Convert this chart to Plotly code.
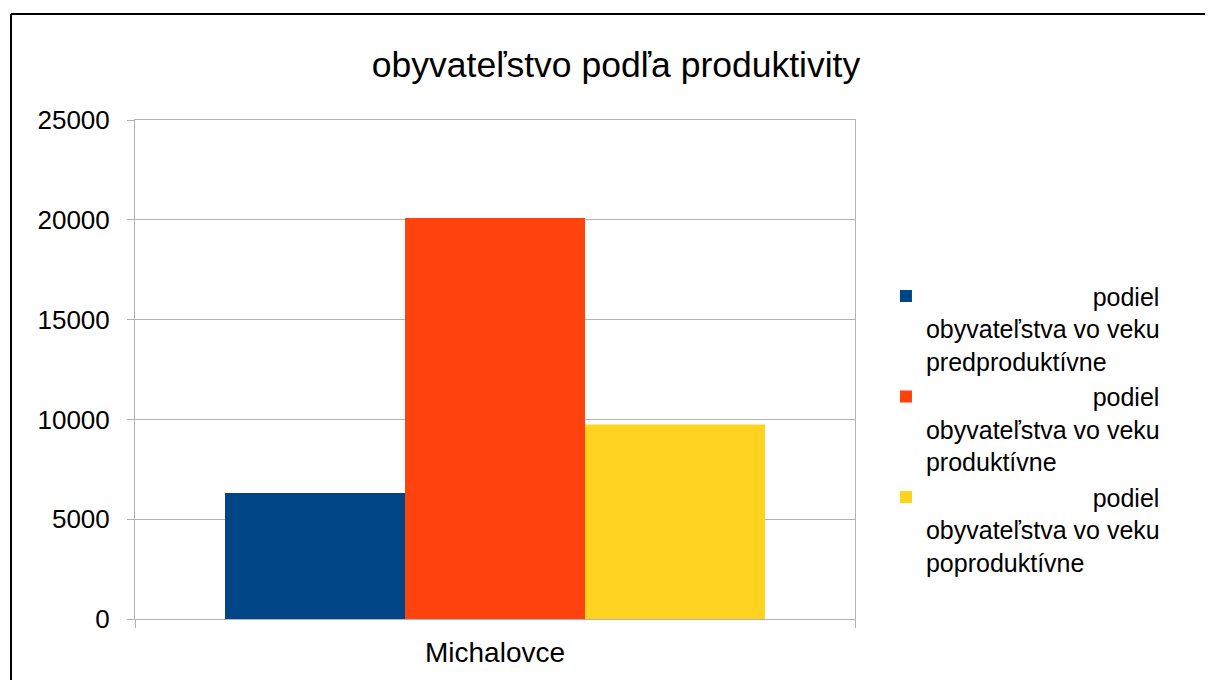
import plotly.graph_objects as go

categories = ["Michalovce"]
series_names = [
    "podiel obyvateľstva vo veku predproduktívne",
    "podiel obyvateľstva vo veku produktívne",
    "podiel obyvateľstva vo veku poproduktívne",
]
legend_first = ["podiel", "podiel", "podiel"]
legend_rest = [
    ["obyvateľstva vo veku", "predproduktívne"],
    ["obyvateľstva vo veku", "produktívne"],
    ["obyvateľstva vo veku", "poproduktívne"],
]
series_values = [[6307], [20084], [9749]]
series_colors = ["#004586", "#ff420e", "#ffd320"]
y_ticks = [0, 5000, 10000, 15000, 20000, 25000]
title_text = "obyvateľstvo podľa produktivity"

FONT = "Liberation Sans, Arial, sans-serif"
NBSP = "\u00a0"
OFF = 8  # page body margin

fig = go.Figure()
for name, first, rest, vals, col in zip(series_names, legend_first, legend_rest,
                                        series_values, series_colors):
    label = NBSP * 24 + first + "<br>" + "<br>".join(rest)
    fig.add_trace(go.Bar(
        x=categories, y=vals, name=label, marker=dict(color=col, line=dict(width=0)),
        hovertext=name,
    ))

W, H = 1213 - OFF, 680 - OFF
grid = "#b3b3b3"
border = dict(color="#000000", width=2)
fig.update_layout(
    width=W, height=H,
    margin=dict(l=135 - OFF, r=W - (135 - OFF) - 720, t=120 - OFF, b=H - (120 - OFF) - 499),
    paper_bgcolor="white", plot_bgcolor="white",
    barmode="group", bargap=0.25, bargroupgap=0,
    font=dict(family=FONT, color="#000000"),
    title=dict(text=title_text, x=(616 - OFF) / W, xanchor="center", xref="container",
               y=1 - (64.5 - OFF) / H, yanchor="middle", yref="container",
               font=dict(size=35.5, family=FONT, color="#000000")),
    showlegend=True,
    legend=dict(x=1.043, xanchor="left", y=0.693, yanchor="top",
                font=dict(size=25, family=FONT, color="#000000"),
                valign="top", tracegroupgap=0, bgcolor="rgba(0,0,0,0)"),
    xaxis=dict(type="category", tickson="boundaries", ticks="outside", ticklen=8,
               tickcolor=grid, showline=True, linecolor=grid, linewidth=1, mirror=True,
               showgrid=False, ticklabelstandoff=8,
               tickfont=dict(size=28, family=FONT, color="#000000")),
    yaxis=dict(range=[0, 25000], tickvals=y_ticks, tickformat="d", ticks="outside", ticklen=7,
               tickcolor=grid, showline=True, linecolor=grid, linewidth=1, mirror=True,
               showgrid=True, gridcolor=grid, gridwidth=1, zeroline=False,
               tickfont=dict(size=26, family=FONT, color="#000000"),
               ticklabelstandoff=12),
    shapes=[
        dict(type="line", xref="paper", yref="paper",
             x0=-0.1722, x1=-0.1722, y0=-0.3, y1=1.2124, line=border, layer="above"),
        dict(type="line", xref="paper", yref="paper",
             x0=-0.1722, x1=2.0, y0=1.2124, y1=1.2124, line=border, layer="above"),
    ],
)

fig.write_html(
    "out.html",
    post_script="document.documentElement.style.overflow='hidden';"
                "document.body.style.overflow='hidden';",
)
